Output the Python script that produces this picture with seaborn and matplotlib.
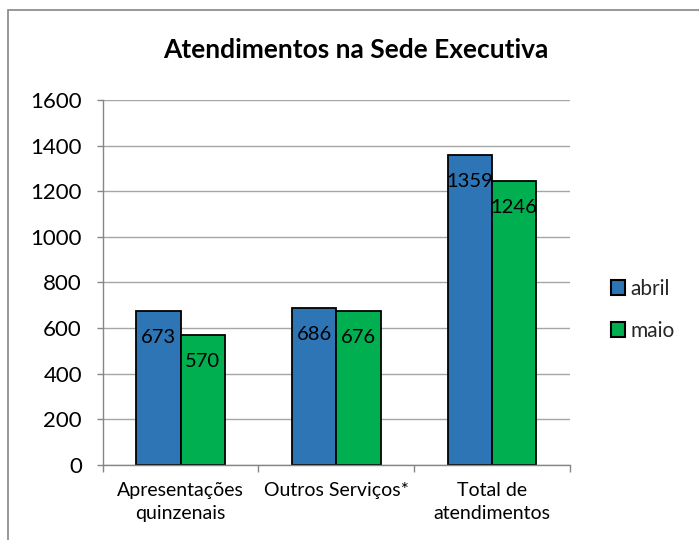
import matplotlib
matplotlib.use("Agg")
import matplotlib.pyplot as plt
import seaborn as sns
import pandas as pd
from matplotlib.patches import Rectangle

categories = ["Apresentações\nquinzenais", "Outros Serviços*", "Total de\natendimentos"]
abril = [673, 686, 1359]
maio = [570, 676, 1246]
series = ["abril", "maio"]
colors = ["#2E75B6", "#00B050"]
yticks = [0, 200, 400, 600, 800, 1000, 1200, 1400, 1600]

df = pd.DataFrame({
    "cat": categories * 2,
    "val": abril + maio,
    "serie": ["abril"] * 3 + ["maio"] * 3,
})

sns.set_theme(style="white")
plt.rcParams["font.family"] = ["Lato", "DejaVu Sans"]

fig = plt.figure(figsize=(6.99, 5.40), dpi=100)
ax = fig.add_axes([0.147, 0.139, 0.668, 0.676])

sns.barplot(data=df, x="cat", y="val", hue="serie", hue_order=series,
            palette=colors, saturation=1, width=0.57, edgecolor="black",
            linewidth=1.3, ax=ax, legend=True)

ax.set_ylim(0, 1600)
ax.set_yticks(yticks)
ax.set_xlim(-0.5, 2.5)
ax.yaxis.grid(True, color="#A6A6A6", linewidth=1)
ax.set_axisbelow(True)
for s in ["top", "right"]:
    ax.spines[s].set_visible(False)
for s in ["left", "bottom"]:
    ax.spines[s].set_color("#868686")
    ax.spines[s].set_linewidth(1)
ax.set_xlabel("")
ax.set_ylabel("")
ax.tick_params(axis="y", labelsize=16, length=4, width=1, color="#868686",
               left=True, pad=11, labelcolor="black")
ax.set_xticks([0, 1, 2])
ax.set_xticklabels(categories, fontsize=14, linespacing=1.45)
ax.tick_params(axis="x", length=0, pad=12, labelcolor="black")
# boundary tick marks
ax.set_xticks([-0.5, 0.5, 1.5, 2.5], minor=True)
ax.tick_params(axis="x", which="minor", length=5, width=1, color="#868686", bottom=True)

for cont in ax.containers:
    for bar in cont:
        h = bar.get_height()
        ax.annotate(f"{int(round(h))}", (bar.get_x() + bar.get_width() / 2, h),
                    xytext=(0, -13), textcoords="offset points",
                    ha="center", va="top", fontsize=14.5, color="black")

handles, labels = ax.get_legend_handles_labels()
leg = ax.legend(handles, labels, loc="center left", bbox_to_anchor=(1.07, 0.425),
                frameon=False, fontsize=15, handlelength=0.7, handleheight=0.7,
                handletextpad=0.25, labelspacing=1.05, borderaxespad=0)
for p in leg.get_patches():
    p.set_edgecolor("black")
    p.set_linewidth(1.5)

fig.text(356 / 699, 1 - 50 / 540, "Atendimentos na Sede Executiva", fontsize=19,
         fontweight="bold", ha="center", va="center", color="black")

fig.patches.append(Rectangle((8 / 699, -0.1), 1.1, 1 - 10 / 540 + 0.1,
                             transform=fig.transFigure, fill=False,
                             edgecolor="#868686", linewidth=1.2))

fig.savefig("out.png", dpi=100, facecolor="white")
